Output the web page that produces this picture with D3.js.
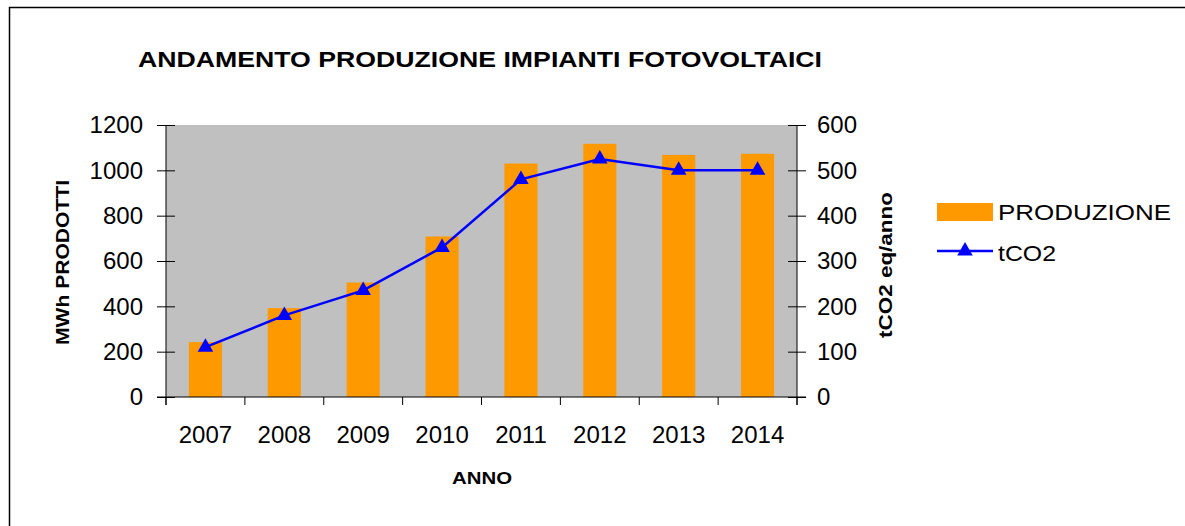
<!DOCTYPE html>
<html>
<head>
<meta charset="utf-8">
<script src="https://cdn.jsdelivr.net/npm/d3@7"></script>
<style>
  body { margin: 0; background: #fff; }
  text { font-family: "Liberation Sans", Arial, sans-serif; fill: #000; }
</style>
</head>
<body>
<div id="chart"></div>
<script>
// data
const anni = ["2007", "2008", "2009", "2010", "2011", "2012", "2013", "2014"];
const produzione = [242, 392, 505, 708, 1030, 1117, 1068, 1073]; // MWh
const tco2 = [110, 180, 235, 330, 480, 525, 500, 500];           // t CO2 eq/anno
const ticksLeft = [0, 200, 400, 600, 800, 1000, 1200];
const ticksRight = [0, 100, 200, 300, 400, 500, 600];

const W = 1185, H = 526;
const plot = { left: 166, right: 797, top: 125, bottom: 397 };

const svg = d3.select("#chart").append("svg")
    .attr("width", W)
    .attr("height", H);

// outer frame (only top and left visible in the picture)
svg.append("path")
    .attr("d", `M9.5,${H} L9.5,7.5 L${W},7.5`)
    .attr("fill", "none")
    .attr("stroke", "#000")
    .attr("stroke-width", 1.5);

const x = d3.scaleBand()
    .domain(anni)
    .range([plot.left, plot.right])
    .paddingInner(0.58)
    .paddingOuter(0.29);

const yL = d3.scaleLinear().domain([0, 1200]).range([plot.bottom, plot.top]);
const yR = d3.scaleLinear().domain([0, 600]).range([plot.bottom, plot.top]);

// grey plot area
svg.append("rect")
    .attr("x", plot.left)
    .attr("y", plot.top)
    .attr("width", plot.right - plot.left)
    .attr("height", plot.bottom - plot.top)
    .attr("fill", "#c0c0c0");

// bars
svg.selectAll("rect.bar")
    .data(anni)
    .enter()
    .append("rect")
    .attr("class", "bar")
    .attr("x", d => x(d))
    .attr("y", (d, i) => yL(produzione[i]))
    .attr("width", x.bandwidth())
    .attr("height", (d, i) => yL(0) - yL(produzione[i]))
    .attr("fill", "#ff9900");

// left axis
const gL = svg.append("g")
    .attr("transform", `translate(${plot.left},0)`)
    .call(d3.axisLeft(yL).tickValues(ticksLeft).tickFormat(d3.format("d"))
        .tickSizeInner(9).tickSizeOuter(0).tickPadding(14));
gL.select(".domain").remove();
gL.selectAll(".tick line").attr("x2", -9).attr("x1", 9).attr("stroke", "#000");
gL.selectAll(".tick text").attr("font-size", 24).attr("font-family", '"Liberation Sans", Arial, sans-serif');

// right axis
const gR = svg.append("g")
    .attr("transform", `translate(${plot.right},0)`)
    .call(d3.axisRight(yR).tickValues(ticksRight).tickFormat(d3.format("d"))
        .tickSizeInner(9).tickSizeOuter(0).tickPadding(11));
gR.select(".domain").remove();
gR.selectAll(".tick line").attr("x2", 9).attr("x1", -9).attr("stroke", "#000");
gR.selectAll(".tick text").attr("font-size", 24).attr("font-family", '"Liberation Sans", Arial, sans-serif');

// axis lines
svg.append("line")
    .attr("x1", plot.left).attr("x2", plot.left)
    .attr("y1", plot.top).attr("y2", plot.bottom + 8)
    .attr("stroke", "#000");
svg.append("line")
    .attr("x1", plot.right).attr("x2", plot.right)
    .attr("y1", plot.top).attr("y2", plot.bottom + 8)
    .attr("stroke", "#000");
svg.append("line")
    .attr("x1", plot.left - 9).attr("x2", plot.right + 9)
    .attr("y1", plot.bottom).attr("y2", plot.bottom)
    .attr("stroke", "#000");

// category ticks between the years
svg.selectAll("line.cat")
    .data(d3.range(anni.length + 1))
    .enter()
    .append("line")
    .attr("class", "cat")
    .attr("x1", i => plot.left + i * x.step())
    .attr("x2", i => plot.left + i * x.step())
    .attr("y1", plot.bottom)
    .attr("y2", plot.bottom + 8)
    .attr("stroke", "#000");

// year labels
svg.selectAll("text.anno")
    .data(anni)
    .enter()
    .append("text")
    .attr("class", "anno")
    .attr("x", d => x(d) + x.bandwidth() / 2)
    .attr("y", 443)
    .attr("text-anchor", "middle")
    .attr("font-size", 24)
    .text(d => d);

// tCO2 line
const line = d3.line()
    .x((d, i) => x(anni[i]) + x.bandwidth() / 2)
    .y(d => yR(d));

svg.append("path")
    .datum(tco2)
    .attr("d", line)
    .attr("fill", "none")
    .attr("stroke", "#0000ff")
    .attr("stroke-width", 2.5);

const tri = d3.symbol(d3.symbolTriangle, 105);
svg.selectAll("path.marker")
    .data(tco2)
    .enter()
    .append("path")
    .attr("class", "marker")
    .attr("d", tri)
    .attr("transform", (d, i) => `translate(${x(anni[i]) + x.bandwidth() / 2},${yR(d)})`)
    .attr("fill", "#0000ff");

// titles
svg.append("text")
    .attr("x", 138)
    .attr("y", 67)
    .attr("font-size", 22)
    .attr("font-weight", "bold")
    .attr("textLength", 684)
    .attr("lengthAdjust", "spacingAndGlyphs")
    .text("ANDAMENTO PRODUZIONE IMPIANTI FOTOVOLTAICI");

svg.append("text")
    .attr("x", 452)
    .attr("y", 484)
    .attr("font-size", 17)
    .attr("font-weight", "bold")
    .attr("textLength", 60)
    .attr("lengthAdjust", "spacingAndGlyphs")
    .text("ANNO");

svg.append("text")
    .attr("transform", "translate(69,345) rotate(-90)")
    .attr("font-size", 18)
    .attr("font-weight", "bold")
    .attr("textLength", 165)
    .attr("lengthAdjust", "spacingAndGlyphs")
    .text("MWh PRODOTTI");

svg.append("text")
    .attr("transform", "translate(892,338) rotate(-90)")
    .attr("font-size", 18)
    .attr("font-weight", "bold")
    .attr("textLength", 146)
    .attr("lengthAdjust", "spacingAndGlyphs")
    .text("tCO2 eq/anno");

// legend
const leg = svg.append("g");
leg.append("rect")
    .attr("x", 937).attr("y", 203)
    .attr("width", 56).attr("height", 18)
    .attr("fill", "#ff9900");
leg.append("text")
    .attr("x", 998).attr("y", 220)
    .attr("font-size", 22)
    .attr("textLength", 173)
    .attr("lengthAdjust", "spacingAndGlyphs")
    .text("PRODUZIONE");
leg.append("line")
    .attr("x1", 937).attr("x2", 993)
    .attr("y1", 251).attr("y2", 251)
    .attr("stroke", "#0000ff")
    .attr("stroke-width", 2.5);
leg.append("path")
    .attr("d", tri)
    .attr("transform", "translate(965,251)")
    .attr("fill", "#0000ff");
leg.append("text")
    .attr("x", 998).attr("y", 261)
    .attr("font-size", 22)
    .attr("textLength", 58)
    .attr("lengthAdjust", "spacingAndGlyphs")
    .text("tCO2");
</script>
</body>
</html>
